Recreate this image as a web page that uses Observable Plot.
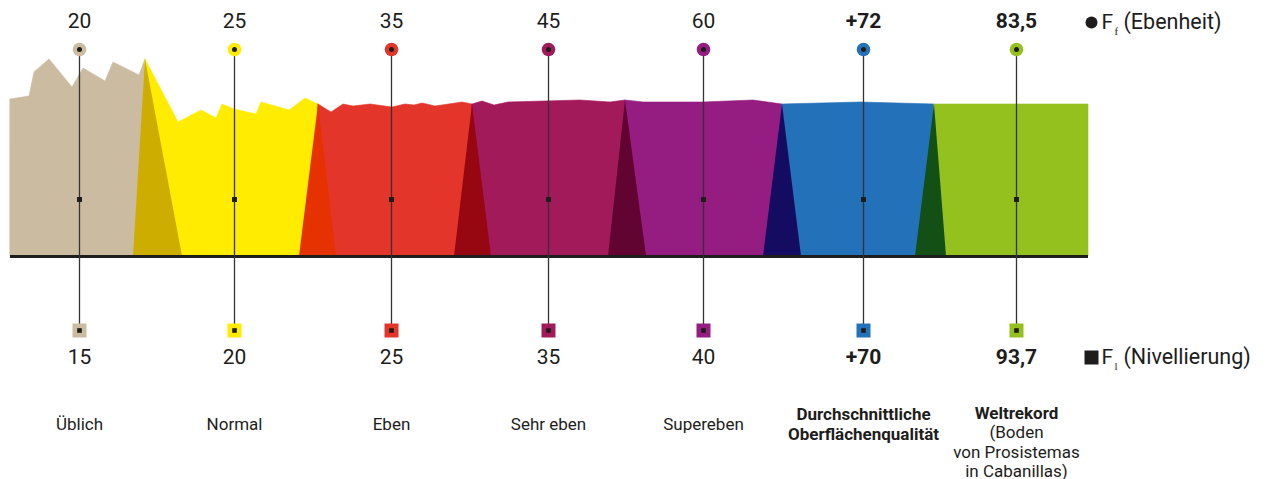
<!DOCTYPE html>
<html><head><meta charset="utf-8">
<script src="https://cdn.jsdelivr.net/npm/d3@7"></script>
<script src="https://cdn.jsdelivr.net/npm/@observablehq/plot@0.6"></script>
<style>
body{margin:0;background:#fff;}
#chart svg{display:block;}
</style></head><body><div id="chart"></div>
<script>
// ---- data ----
const categories = ["Üblich", "Normal", "Eben", "Sehr eben", "Supereben", "Durchschnittliche\nOberflächenqualität", "Weltrekord"];
const boldCategory = [false, false, false, false, false, true, true];
const notes = ["", "", "", "", "", "", "(Boden\nvon Prosistemas\nin Cabanillas)"];
const ffValues = ["20", "25", "35", "45", "60", "+72", "83,5"];
const flValues = ["15", "20", "25", "35", "40", "+70", "93,7"];
const columnPos = [79, 234, 391, 548, 703, 863, 1016];
const segmentColors = ["#cbbba0", "#ffec00", "#e4352b", "#a31a5b", "#951c80", "#2371b8", "#95c11f"];
const transitionColors = ["#ccad00", "#e63200", "#970712", "#620431", "#140c60", "#125015"];

// surface profiles (position along floor, height above base)
const profileTan = [[10,157],[29,160],[34,184],[49,197],[72,169],[83,188],[105,175],[113,194],[139,181],[145,197]];
const profileYellow = [[145,197],[178,134],[201,146],[216,138],[222,152],[234,147],[256,142],[261,154],[289,146],[305,158],[318,152]];
const profileRed = [[318,152],[331,144],[343,152],[353,150],[370,152],[392,149],[405,152],[414,151],[422,153],[435,150],[462,154],[472,152]];
const profileCrimson = [[472,152],[482,155],[494,151],[508,154],[580,156],[610,154],[625,156]];
const profilePurple = [[625,156],[643,154],[703,154],[753,156],[782,152]];
const profileBlue = [[782,152],[860,154],[934,152]];
const profileGreen = [[934,152],[1088,152]];
const profiles = [profileTan, profileYellow, profileRed, profileCrimson, profilePurple, profileBlue, profileGreen];
const transitionBases = [[133,182],[299,336],[454,491],[608,646],[763,801],[915,946]];

const chartStart = 10, chartEnd = 1088;
const legendLabels = ["(Ebenheit)", "(Nivellierung)"];
const legendSubs = ["f", "l"];

// ---- layout levels (y units above baseline) ----
const ffLevel = 207, midLevel = 57, flLevel = -74;
const ffTextLevel = 235, flTextLevel = -101, titleLevel = -167, noteLevel = -195;

// ---- derived tables ----
const segRows = profiles.flatMap((p, i) => p.map(([x, h]) => ({seg: i, x, h, color: segmentColors[i]})));
const triRows = transitionBases.flatMap(([b0, b1], i) => {
  const apex = profiles[i][profiles[i].length - 1];
  return [{t: i, x: b0, h: 0}, {t: i, x: apex[0], h: apex[1]}, {t: i, x: b1, h: 0}].map(d => ({...d, color: transitionColors[i]}));
});
const columns = categories.map((c, i) => ({
  title: c, x: columnPos[i], ff: ffValues[i], fl: flValues[i], color: segmentColors[i], bold: boldCategory[i], note: notes[i]
}));
const regular = columns.filter(d => !d.bold);
const bold = columns.filter(d => d.bold);
const legendRows = legendLabels.map((l, i) => ({label: l, sub: legendSubs[i], level: i === 0 ? 234 : -101, symbol: i === 0 ? "circle" : "square"}));

const ink = "#1d1d1b";
const font = "Roboto, 'DejaVu Sans', sans-serif";

const chart = Plot.plot({
  width: 1268, height: 479, margin: 0,
  x: {domain: [0, 1268], axis: null},
  y: {domain: [-223, 256], axis: null},
  color: {type: "identity"},
  style: {fontFamily: font, color: ink, background: "white", overflow: "visible"},
  marks: [
    Plot.areaY(segRows, {x: "x", y1: 0, y2: "h", z: "seg", fill: "color", stroke: "color", strokeWidth: 0.6, curve: "linear"}),
    Plot.areaY(triRows, {x: "x", y1: 0, y2: "h", z: "t", fill: "color", curve: "linear"}),
    Plot.ruleY([{y: 0, x1: chartStart, x2: chartEnd}], {y: "y", x1: "x1", x2: "x2", stroke: ink, strokeWidth: 3}),
    Plot.ruleX(columns, {x: "x", y1: ffLevel, y2: flLevel, stroke: "#333", strokeWidth: 1.3}),
    Plot.dot(columns, {x: "x", y: ffLevel, r: 6.8, fill: "color"}),
    Plot.dot(columns, {x: "x", y: ffLevel, r: 2.5, fill: ink}),
    Plot.dot(columns, {x: "x", y: midLevel, r: 2.8, symbol: "square", fill: ink}),
    Plot.dot(columns, {x: "x", y: flLevel, r: 7.9, symbol: "square", fill: "color"}),
    Plot.dot(columns, {x: "x", y: flLevel, r: 2.6, symbol: "square", fill: ink}),
    Plot.text(regular, {x: "x", y: ffTextLevel, text: "ff", fontSize: 21, fill: ink}),
    Plot.text(bold, {x: "x", y: ffTextLevel, text: "ff", fontSize: 21, fontWeight: 700, fill: ink}),
    Plot.text(regular, {x: "x", y: flTextLevel, text: "fl", fontSize: 21, fill: ink}),
    Plot.text(bold, {x: "x", y: flTextLevel, text: "fl", fontSize: 21, fontWeight: 700, fill: ink}),
    Plot.text(regular, {x: "x", y: titleLevel, text: "title", fontSize: 17, lineHeight: 1.18, fill: ink}),
    Plot.text(bold.filter(d => !d.note), {x: "x", y: titleLevel, text: "title", fontSize: 17, lineHeight: 1.18, fontWeight: 700, fill: ink}),
    Plot.text(bold.filter(d => d.note), {x: "x", y: titleLevel, dy: -10, text: "title", fontSize: 17, fontWeight: 700, fill: ink}),
    Plot.text(columns.filter(d => d.note), {x: "x", y: noteLevel, text: "note", fontSize: 17, lineHeight: 1.14, fill: ink}),
    // legend
    Plot.dot(legendRows.filter(d => d.symbol === "circle"), {x: 1091, y: "level", r: 6, fill: ink}),
    Plot.dot(legendRows.filter(d => d.symbol === "square"), {x: 1091, y: "level", r: 7.9, symbol: "square", fill: ink}),
    Plot.text(legendRows, {x: 1101, y: "level", text: () => "F", textAnchor: "start", fontSize: 21, fill: ink}),
    Plot.text(legendRows, {x: 1114, y: "level", dy: 9, text: "sub", textAnchor: "start", fontSize: 11, fontFamily: "'Liberation Serif', serif", fill: ink}),
    Plot.text(legendRows, {x: 1123, y: "level", text: "label", textAnchor: "start", fontSize: 21.5, fill: ink})
  ]
});
document.getElementById("chart").append(chart);
</script>
</body></html>
